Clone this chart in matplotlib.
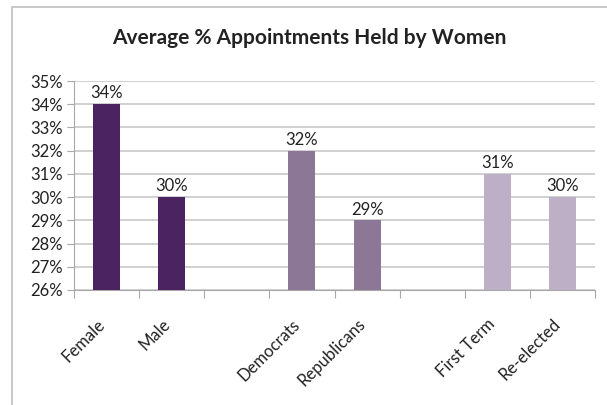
import matplotlib
matplotlib.use('Agg')
import matplotlib.pyplot as plt
from matplotlib.patches import Rectangle
from matplotlib.ticker import FuncFormatter

# Data
categories = ['Female', 'Male', '', 'Democrats', 'Republicans', '', 'First Term', 'Re-elected']
values = [34, 30, None, 32, 29, None, 31, 30]
colors = ['#4a2360', '#4a2360', None, '#8c7896', '#8c7896', None, '#bdafc5', '#bdafc5']

plt.rcParams['font.family'] = ['Lato', 'DejaVu Sans']

fig = plt.figure(figsize=(6.07, 4.05), dpi=100)
ax = fig.add_axes([74 / 607, 1 - 290 / 405, (595 - 74) / 607, (290 - 81) / 405])

# chart border (only top/left visible in the original crop)
fig.patches.append(Rectangle((12 / 607, -0.1), 1.2, 1.1 - 7 / 405, transform=fig.transFigure,
                             fill=False, edgecolor='#c4c4c4', linewidth=1.3))

for i, (v, c) in enumerate(zip(values, colors)):
    if v is None:
        continue
    ax.bar(i + 0.5, v - 26, bottom=26, width=0.415, color=c, zorder=3)
    ax.text(i + 0.5, v + 0.12, f'{v}%', ha='center', va='bottom', fontsize=12, color='#222222')

ax.set_xlim(0, len(categories))
ax.set_ylim(26, 35)
ax.set_yticks(range(26, 36))
ax.yaxis.set_major_formatter(FuncFormatter(lambda y, p: f'{int(y)}%'))
ax.grid(axis='y', color='#c4c4c4', linewidth=1.1, zorder=0)

ax.set_xticks(range(len(categories) + 1))
ax.set_xticklabels([])
ax.tick_params(axis='x', length=6, color='#a8a8a8')
ax.tick_params(axis='y', length=5, color='#a8a8a8', labelsize=12, labelcolor='#222222', pad=3)

# category labels, rotated like the original
for i, name in enumerate(categories):
    if name:
        ax.annotate(name, xy=(i + 0.5, 0), xycoords=ax.get_xaxis_transform(),
                    xytext=(-10, -26), textcoords='offset pixels',
                    rotation=45, rotation_mode='anchor', ha='right', va='top',
                    fontsize=12, color='#222222', annotation_clip=False)

for s in ['top', 'right']:
    ax.spines[s].set_visible(False)
ax.spines['left'].set_color('#a8a8a8')
ax.spines['bottom'].set_color('#a8a8a8')

fig.text(309 / 607, 1 - 38 / 405, 'Average % Appointments Held by Women', ha='center', va='center',
         fontsize=15, fontweight='bold', color='#222222')

fig.savefig('out.png', dpi=100)
